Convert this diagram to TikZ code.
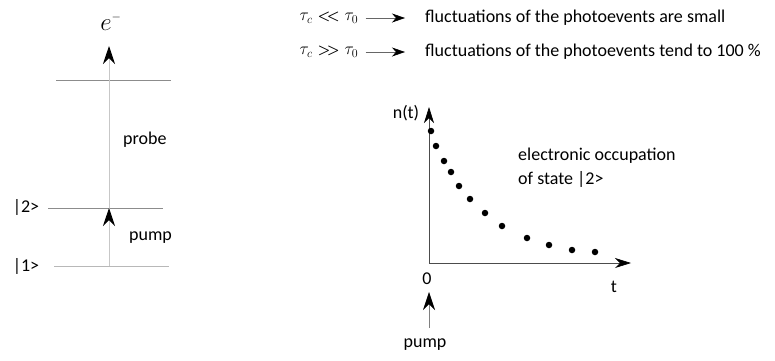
\documentclass[tikz,border=0pt]{standalone}
\usepackage{fontspec}
\setmainfont{Carlito}
\usetikzlibrary{arrows.meta,positioning}
\newcommand{\chev}[1]{{\fontsize{15}{15}\selectfont\boldmath$#1\mkern-4mu#1$}}

\begin{document}
\begin{tikzpicture}[x=1pt,y=-1pt,
every node/.style={font=\fontsize{18}{24}\selectfont,inner sep=2pt},
level/.style={draw=black!45,line width=.6pt},
beam/.style={draw=black!22,line width=.9pt,-{Stealth[black,length=18pt,width=12pt,inset=6pt]}},
axis/.style={draw=black!70,line width=.7pt,-{Stealth[black,length=16pt,width=10pt,inset=5pt]}},
dot/.style={circle,fill=black,inner sep=0pt,minimum size=6.5pt}]
\useasboundingbox (0,0) rectangle (775,360);
% energy levels
\coordinate (L3a) at (56,80); \coordinate (L3b) at (171,80);
\coordinate (L2a) at (48,208); \coordinate (L2b) at (163,208);
\coordinate (L1a) at (54,266); \coordinate (L1b) at (169,266);
\coordinate (P1) at (109,266); \coordinate (P2) at (109,208);
\coordinate (E) at (109,46);
\draw[level] (L3a)--(L3b);
\draw[level] (L2a)--(L2b);
\draw[level,draw=black!28,line width=.9pt] (L1a)--(L1b);
\draw[beam] (P1)--(E);
\draw[beam] (P1)--(P2);
\node (El) at (111,22) {\fontsize{24}{24}\selectfont$e^{\scriptscriptstyle -}$};
\node (S2) at (26,207) {|2>};
\node (S1) at (26,266) {|1>};
\node[anchor=west] (Probe) at (121,140) {probe};
\node[anchor=west] (Pump) at (127,238) {pump};
% the two limits
\node (C1) at (329,18) {$\tau_c$\;\chev{<}\;$\tau_0$};
\node (C2) at (329,52) {$\tau_c$\;\chev{>}\;$\tau_0$};
\node[anchor=west] (F1) at (423,18) {fluctuations of the photoevents are small};
\node[anchor=west] (F2) at (423,52) {fluctuations of the photoevents tend to 100 \%};
\draw[axis,line width=.6pt,draw=black!60,-{Stealth[black,length=13pt,width=9pt,inset=4pt]}]
  (C1.east)++(5,0) -- ([xshift=-18pt]F1.west);
\draw[axis,line width=.6pt,draw=black!60,-{Stealth[black,length=13pt,width=9pt,inset=4pt]}]
  (C2.east)++(5,0) -- ([xshift=-18pt]F2.west);
% decay of n(t)
\coordinate (O) at (429,263);
\coordinate (Y) at (429,107);
\coordinate (X) at (631,263);
\draw[axis] (O)--(Y);
\draw[axis] (O)--(X);
\node (Nt) at (406,113) {n(t)};
\node (Zero) at (427,279) {0};
\node (T) at (614,287) {t};
\coordinate (Q1) at (429,328); \coordinate (Q2) at (429,292);
\draw[beam,draw=black!50,line width=.6pt] (Q1)--(Q2);
\node (Pump2) at (425,345) {pump};
\foreach \x/\y [count=\i] in {431/131,436/146,444/161,451/172,459/186,470/199,
  485/213,502/226,527/238,549/245,572/250,595/252}
  \node[dot] (D\i) at (\x,\y) {};
\node[anchor=west,align=left] (Occ) at (516,168) {electronic occupation\\of state |2>};
\end{tikzpicture}
\end{document}
